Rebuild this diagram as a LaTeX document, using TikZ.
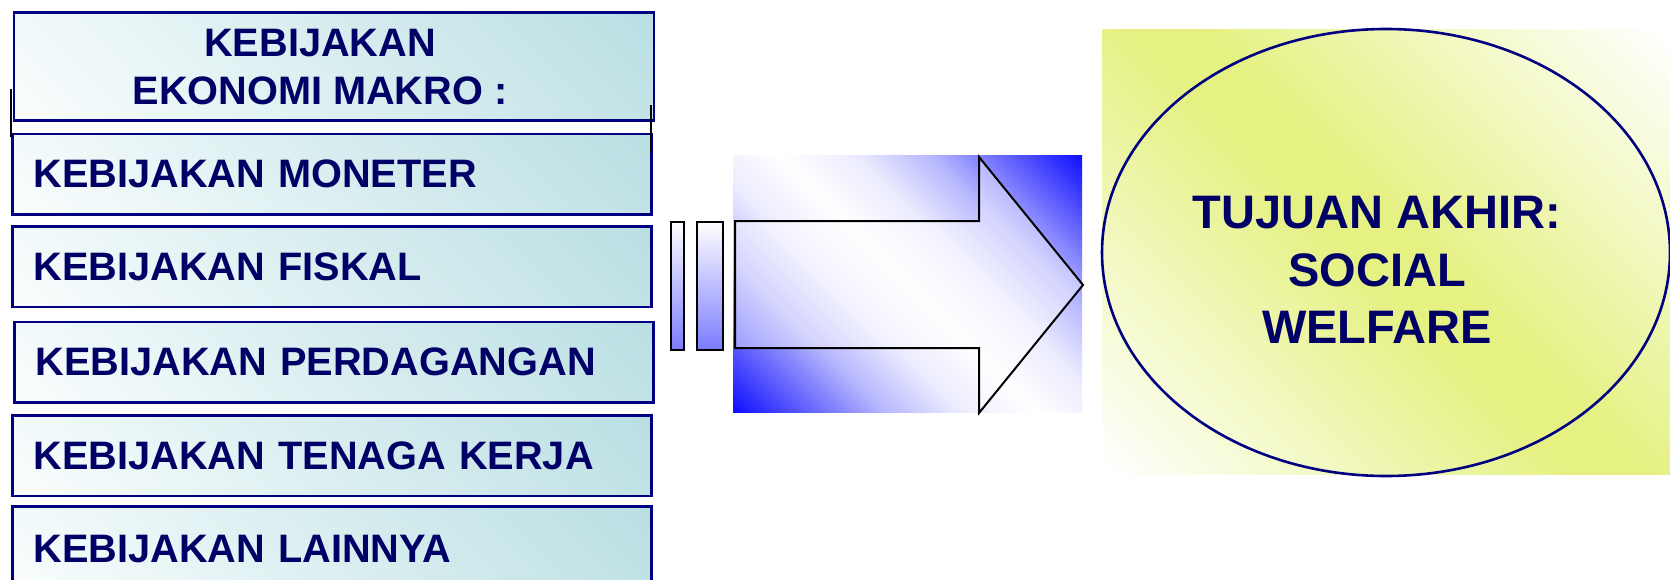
\documentclass[tikz,border=0pt]{standalone}
\usepackage{fontspec}
\setmainfont{Liberation Sans}
\usetikzlibrary{shapes.geometric}
\definecolor{navytext}{RGB}{0,0,102}
\definecolor{navyline}{RGB}{0,0,128}
\definecolor{tealc}{RGB}{186,223,227}
\definecolor{paleteal}{RGB}{250,253,253}
\definecolor{yellowc}{RGB}{229,241,131}
\definecolor{bluec}{RGB}{15,15,255}
\pgfdeclarehorizontalshading{tealgrad}{100bp}{color(0bp)=(paleteal); color(15bp)=(paleteal); color(85bp)=(tealc); color(100bp)=(tealc)}
\pgfdeclarehorizontalshading{bluemirror}{100bp}{color(0bp)=(bluec); color(14.6bp)=(bluec); color(23.5bp)=(bluec!65); color(32.3bp)=(bluec!30); color(41.2bp)=(bluec!8); color(50bp)=(white); color(58.8bp)=(bluec!8); color(67.7bp)=(bluec!30); color(76.5bp)=(bluec!65); color(85.4bp)=(bluec); color(100bp)=(bluec)}
\pgfdeclarehorizontalshading{yellowmirror}{100bp}{color(0bp)=(white); color(15bp)=(white); color(47bp)=(yellowc); color(53bp)=(yellowc); color(85bp)=(white); color(100bp)=(white)}
\tikzset{
  pbox/.style={rectangle, draw=navyline, line width=2.5pt, shade, shading=tealgrad, shading angle=45,
    inner sep=0pt, anchor=north west, text=navytext, font=\fontsize{39.7}{48}\selectfont\bfseries},
  listbox/.style={pbox, minimum width=639, minimum height=80.5, text width=596.4, align=left, inner xsep=21.3},
  ptext/.style={text=navytext, font=\fontsize{39.7}{48}\selectfont\bfseries, inner sep=0pt},
  gtext/.style={text=navytext, font=\fontsize{47}{57.7}\selectfont\bfseries, inner sep=0pt, align=center},
  barbox/.style={rectangle, draw=black, line width=2pt, shade, top color=white, bottom color=bluec!55, inner sep=0pt, anchor=north west},
  darkline/.style={draw=black, line width=2.3pt},
}
\begin{document}
\begin{tikzpicture}[x=1pt,y=-1pt]
\useasboundingbox (0,0) rectangle (1670,579);
\clip (0,0) rectangle (1670,579);
% left column
\node[pbox, minimum width=639.8, minimum height=108] (title) at (12.7,11) {};
\node[ptext, align=center] (titletext) at (320,66.6) {KEBIJAKAN\\EKONOMI MAKRO :};
\node[listbox] (moneter) at (11,132.5) {KEBIJAKAN MONETER};
\node[listbox] (fiskal) at (11,225) {KEBIJAKAN FISKAL};
\node[listbox] (perdagangan) at (13,320.5) {KEBIJAKAN PERDAGANGAN};
\node[listbox] (tenaga) at (11,414) {KEBIJAKAN TENAGA KERJA};
\node[listbox, minimum height=85] (lainnya) at (11,505) {KEBIJAKAN LAINNYA};
\coordinate (la) at (10.7,89); \coordinate (lb) at (10.7,137);
\coordinate (ra) at (651,105); \coordinate (rb) at (651,153);
\path[darkline] (la) -- (lb);
\path[darkline] (ra) -- (rb);
% arrow
\node[rectangle, shade, shading=bluemirror, shading angle=45, minimum width=349, minimum height=257, inner sep=0pt, anchor=north west] (arrowbg) at (733,155) {};
\draw[line width=2pt, fill=white, fill opacity=0.42, line join=miter] (735,221) -- (979,221) -- (979,157) -- (1083,285) -- (979,413) -- (979,348) -- (735,348) -- cycle;
\node[barbox, minimum width=13, minimum height=128] (bar1) at (670,221) {};
\node[barbox, minimum width=26.5, minimum height=128] (bar2) at (695.5,221) {};
% goal
\node[rectangle, shade, shading=yellowmirror, shading angle=45, minimum width=568, minimum height=445, inner sep=0pt, anchor=north west] (goalbg) at (1102,29) {};
\node[ellipse, draw=navyline, line width=2.6pt, minimum width=568, minimum height=447, inner sep=0pt] (goal) at (1386,252.5) {};
\node[gtext] (goaltext) at (1377,270) {TUJUAN AKHIR:\\SOCIAL\\WELFARE};
\end{tikzpicture}
\end{document}
